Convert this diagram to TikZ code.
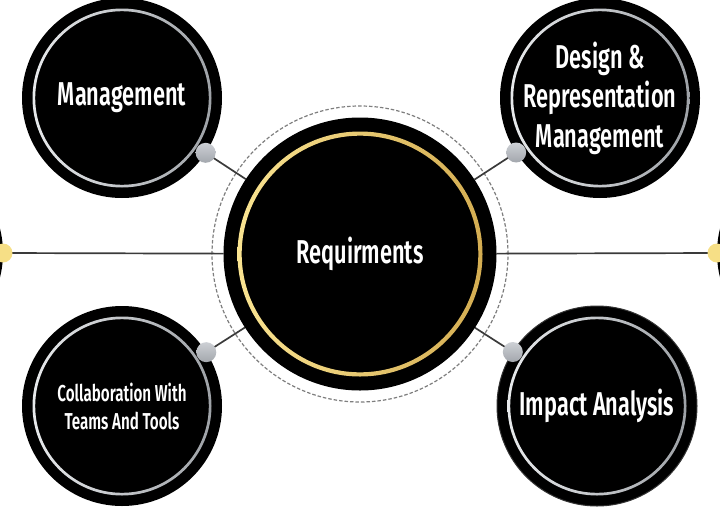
\documentclass[tikz,border=0pt]{standalone}
\usepackage{fontspec}
\setmainfont{Fira Sans}[FakeStretch=0.66, BoldFont={Fira Sans SemiBold}, BoldFeatures={FakeStretch=0.66}]
\usetikzlibrary{calc,backgrounds}
\definecolor{linegray}{HTML}{3A3A3A}
\definecolor{gold1}{HTML}{FCE795}
\definecolor{gold2}{HTML}{D2AA4E}
\definecolor{silv1}{HTML}{ECEEF0}
\definecolor{silv2}{HTML}{9A9EA3}
\definecolor{dot1}{HTML}{CDD0D5}
\definecolor{dot2}{HTML}{A3A7AD}
\definecolor{dashgray}{HTML}{7E7E7E}
\definecolor{ydotc}{HTML}{F6DF86}
\tikzset{
  topic/.style={circle, fill=black, minimum size=200pt, inner sep=0pt, outer sep=0pt,
    text=white, align=center, font=\bfseries\fontsize{33}{39.5}\selectfont,
    path picture={\shade[even odd rule, left color=silv1, right color=silv2]
      (path picture bounding box.center) circle (89.5pt) circle (86.8pt);}},
  hub/.style={circle, fill=black, minimum size=273pt, inner sep=0pt, outer sep=0pt,
    text=white, font=\bfseries\fontsize{33}{39.5}\selectfont,
    path picture={\shade[even odd rule, left color=gold1, right color=gold2]
      (path picture bounding box.center) circle (122.5pt) circle (118.3pt);}},
  sidecirc/.style={circle, fill=black, minimum size=200pt, inner sep=0pt, outer sep=0pt},
  knob/.style={circle, top color=dot1, bottom color=dot2, minimum size=20pt, inner sep=0pt},
  ydot/.style={circle, fill=ydotc, minimum size=19pt, inner sep=0pt},
  link/.style={draw=linegray, line width=1.7pt},
  dashring/.style={draw=dashgray, line width=1.2pt, dash pattern=on 3.5pt off 2pt},
}
\begin{document}
\begin{tikzpicture}[x=1pt,y=-1pt]
\useasboundingbox (0,0) rectangle (720,509);
\node[hub] (req) at (360,254) {Requirments};
\node[topic] (mgmt) at (122,98) {Management};
\node[topic] (design) at (600,98) {Design \&\\Representation\\Management};
\node[topic, font=\bfseries\fontsize{23}{28}\selectfont] (collab) at (122,406) {Collaboration With\\Teams And Tools};
\node[topic, draw=black!80, line width=1pt] (impact) at (597,406) {Impact Analysis};
\node[sidecirc] (lside) at (-97,253) {};
\node[sidecirc] (rside) at (817,253) {};
\node[knob] (k1) at ($(mgmt)!100pt!(req)$) {};
\node[knob] (k2) at ($(design)!100pt!(req)$) {};
\node[knob] (k3) at ($(collab)!100pt!(req)$) {};
\node[knob] (k4) at ($(impact)!100pt!(req)$) {};
\node[ydot] (y1) at ($(lside)!100pt!(rside)$) {};
\node[ydot] (y2) at ($(rside)!100pt!(lside)$) {};
\begin{scope}[on background layer]
  \draw[dashring] (req.center) circle (148pt);
  \draw[link] (k1.center) -- (req);
  \draw[link] (k2.center) -- (req);
  \draw[link] (k3.center) -- (req);
  \draw[link] (k4.center) -- (req);
  \draw[link] (y1.center) -- (req);
  \draw[link] (y2.center) -- (req);
\end{scope}
\end{tikzpicture}
\end{document}
